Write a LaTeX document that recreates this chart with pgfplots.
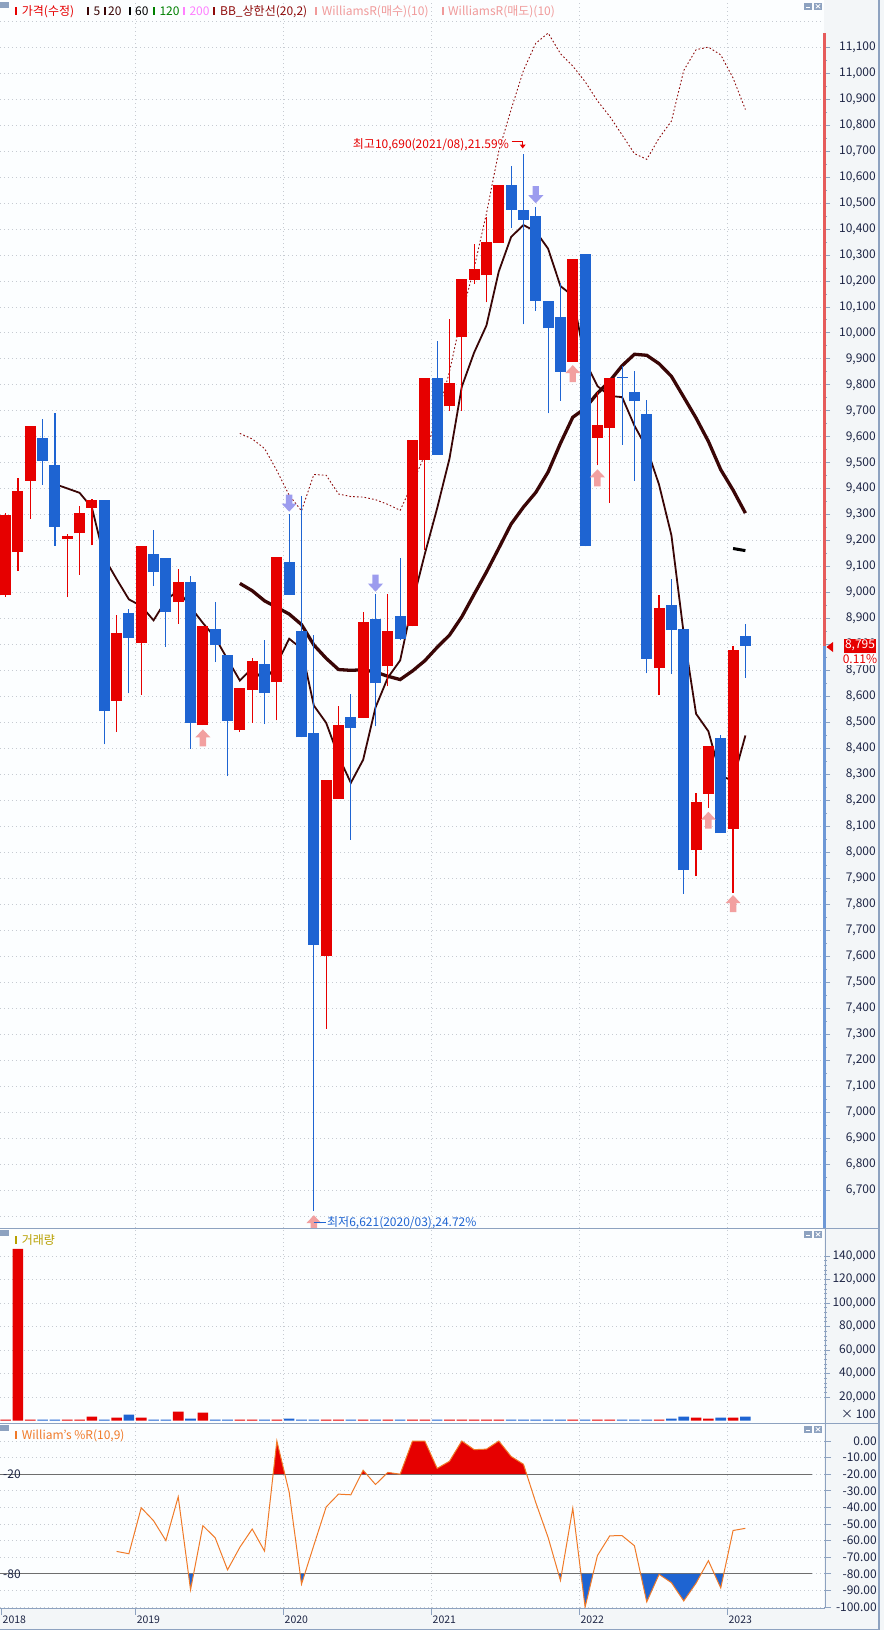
\documentclass[border=0pt]{standalone}
\usepackage{fontspec}
\setmainfont{Noto Sans CJK KR}
\usepackage{pgfplots}
\usepackage{pgfplotstable}
\pgfplotsset{compat=1.18}

\definecolor{upred}{HTML}{E60000}
\definecolor{dnblue}{HTML}{1E64D2}
\definecolor{maline}{HTML}{3A0606}
\definecolor{bbred}{HTML}{8E0A0A}
\definecolor{frame}{HTML}{8DA2C0}
\definecolor{strip}{HTML}{F3F6F8}
\definecolor{plotbg}{HTML}{FCFEFF}
\definecolor{gridc}{HTML}{C6CBD2}
\definecolor{lbl}{HTML}{1E2646}
\definecolor{wrline}{HTML}{F07A28}
\definecolor{buyar}{HTML}{F2A0A0}
\definecolor{sellar}{HTML}{9C9CEE}
\definecolor{wrtext}{HTML}{F09A9A}
\definecolor{volt}{HTML}{B8A000}
\definecolor{ma120}{HTML}{008000}
\definecolor{ma200}{HTML}{FF80FF}
\definecolor{stripred}{HTML}{E65C5C}
\definecolor{stripblue}{HTML}{6E98D6}
\definecolor{refline}{HTML}{6E6E6E}

\newcommand{\tf}{\fontsize{12}{14}\selectfont}

% arrows for the Williams %R buy / sell signals (tip at the data point)
\pgfdeclareplotmark{buyarrow}{%
  \pgfpathmoveto{\pgfqpoint{0pt}{0pt}}%
  \pgfpathlineto{\pgfqpoint{7.5pt}{-8pt}}%
  \pgfpathlineto{\pgfqpoint{3.2pt}{-8pt}}%
  \pgfpathlineto{\pgfqpoint{3.2pt}{-17pt}}%
  \pgfpathlineto{\pgfqpoint{-3.2pt}{-17pt}}%
  \pgfpathlineto{\pgfqpoint{-3.2pt}{-8pt}}%
  \pgfpathlineto{\pgfqpoint{-7.5pt}{-8pt}}%
  \pgfpathclose\pgfusepathqfill}
\pgfdeclareplotmark{sellarrow}{%
  \pgfpathmoveto{\pgfqpoint{0pt}{0pt}}%
  \pgfpathlineto{\pgfqpoint{7.5pt}{8pt}}%
  \pgfpathlineto{\pgfqpoint{3.2pt}{8pt}}%
  \pgfpathlineto{\pgfqpoint{3.2pt}{17pt}}%
  \pgfpathlineto{\pgfqpoint{-3.2pt}{17pt}}%
  \pgfpathlineto{\pgfqpoint{-3.2pt}{8pt}}%
  \pgfpathlineto{\pgfqpoint{-7.5pt}{8pt}}%
  \pgfpathclose\pgfusepathqfill}

% monthly candles, x = months since Jan 2018
\pgfplotstableread{
x o h l c
1 8990 9305 8985 9300
2 9156 9443 9083 9390
3 9430 9640 9285 9640
6 9207 9225 8983 9217
7 9228 9332 9070 9305
8 9326 9360 9182 9355
10 8585 8913 8463 8843
12 8805 9178 8608 9178
15 8964 9090 8880 9043
17 8490 8870 8490 8870
20 8471 8635 8463 8635
21 8625 8748 8500 8739
23 8656 9136 8509 9136
27 7601 8280 7322 8280
28 8207 8562 8207 8491
30 8517 8925 8517 8888
32 8716 8996 8639 8854
34 8870 9589 8870 9589
35 9512 9828 9165 9828
37 9717 10054 9700 9809
38 9986 10208 9700 10208
39 10205 10342 10188 10246
40 10221 10447 10117 10350
41 10347 10569 10347 10569
47 9888 10285 9888 10285
49 9596 9771 9490 9646
50 9634 9827 9346 9827
54 8710 8990 8606 8940
57 8009 8230 7909 8196
58 8225 8408 8172 8408
60 8090 8795 7845 8778
}\upcandles

\pgfplotstableread{
x o h l c
4 9594 9667 9415 9507
5 9490 9690 9180 9253
9 9355 9355 8416 8543
11 8920 8936 8612 8825
13 9147 9240 9025 9079
14 9132 9132 8791 8925
16 9043 9065 8400 8500
18 8862 8963 8733 8798
19 8762 8762 8294 8506
22 8724 8816 8494 8613
24 9117 9302 8991 8991
25 8854 9373 8443 8443
26 8461 8838 6621 7645
29 8520 8611 8049 8481
31 8900 8995 8485 8651
33 8911 9135 8816 8823
36 9828 9967 9531 9531
42 10569 10644 10405 10474
43 10474 10690 10033 10436
44 10450 10483 10086 10124
45 10123 10123 9690 10017
46 10062 10191 9738 9850
48 10304 10304 9178 9178
51 9832 9874 9569 9828
52 9773 9854 9431 9736
53 9689 9742 8689 8745
55 8951 9051 8687 8856
56 8859 8859 7841 7932
59 8442 8453 8075 8075
61 8832 8878 8673 8795
}\dncandles

\pgfplotsset{
  panel/.style={scale only axis, width=824pt, xmin=0.5458, xmax=67.375,
    anchor=north west, axis line style={draw=none},
    axis background/.style={fill=plotbg},
    grid style={draw=gridc, dash pattern=on 1pt off 3pt, line width=0.8pt},
    tick align=outside, tick style={draw=frame, line width=0.8pt},
    major tick length=6pt, minor tick length=3pt,
    ytick pos=right, yticklabel pos=right,
    scaled y ticks=false,
    ticklabel style={font=\tf, text=lbl},
    yticklabel style={anchor=east, inner sep=0pt, xshift=46pt},
    /pgf/number format/assume math mode=true,
    /pgf/number format/1000 sep={,},
    xtick={11.5,23.5,35.5,47.5,59.5}, xmajorgrids, ymajorgrids},
  wick/.style={draw=none, mark=none, error bars/.cd, y dir=plus, y explicit,
    error mark=none, error bar style={draw=#1, line width=1.2pt}},
  body/.style={draw=none, mark=none, error bars/.cd, y dir=plus, y explicit,
    error mark=none, error bar style={draw=#1, line width=11pt}},
}

\begin{document}
\begin{tikzpicture}
\useasboundingbox (0pt,0pt) rectangle (884pt,-1630pt);
\fill[strip] (0pt,0pt) rectangle (884pt,-1630pt);

% ---------------- price panel ----------------
\begin{axis}[panel, at={(0pt,0pt)}, height=1228pt,
  ymin=6554.6, ymax=11281.3,
  ytick={6700,6800,...,11100}, minor y tick num=1,
  extra y ticks={6600,11200}, extra y tick labels={},
  extra y tick style={grid=major, major tick length=0pt},
  /pgf/number format/fixed, /pgf/number format/precision=0,
  xticklabels={}, xtick style={draw=none}]

  % BB upper band (20,2)
  \addplot[bbred, line width=0.9pt, dash pattern=on 1.6pt off 2.2pt] coordinates {
    (20,9613) (21,9592) (22,9555) (23,9470) (24,9375) (25,9315) (26,9455)
    (27,9452) (28,9380) (29,9370) (30,9368) (31,9358) (32,9340) (33,9317)
    (34,9420) (35,9530) (36,9680) (37,9850) (38,10070) (39,10250) (40,10460)
    (41,10700) (42,10860) (43,11010) (44,11115) (45,11154) (46,11075)
    (47,11027) (48,10967) (49,10893) (50,10833) (51,10762) (52,10690)
    (53,10668) (54,10750) (55,10815) (56,11010) (57,11090) (58,11100)
    (59,11070) (60,10981) (61,10860)};

  % 60 MA
  \addplot[black, line width=3pt] coordinates {(60,9170) (61,9162)};

  % 20 MA
  \addplot[maline, line width=3.3pt] coordinates {
    (20,9035.6) (21,9007.6) (22,8968.7) (23,8943.5) (24,8917.7) (25,8877.2)
    (26,8798.6) (27,8747.4) (28,8704.2) (29,8701.1) (30,8703.3) (31,8694.6)
    (32,8678.4) (33,8665.6) (34,8698.8) (35,8738.1) (36,8789.6) (37,8836.6)
    (38,8907.1) (39,8994.1) (40,9079.8) (41,9171.3) (42,9264.4) (43,9329.4)
    (44,9386) (45,9464.7) (46,9575) (47,9675.2) (48,9709.6) (49,9767.8)
    (50,9814.8) (51,9873.6) (52,9917.7) (53,9913.8) (54,9881.4) (55,9832.8)
    (56,9752.8) (57,9672.2) (58,9582.2) (59,9473.6) (60,9395) (61,9306.3)};

  % 5 MA
  \addplot[maline, line width=1.8pt] coordinates {
    (5,9418) (6,9401.4) (7,9384.4) (8,9327.4) (9,9134.6) (10,9052.6)
    (11,8974.2) (12,8948.8) (13,8893.6) (14,8970) (15,9010) (16,8945)
    (17,8883.4) (18,8827.2) (19,8743.4) (20,8661.8) (21,8709.6) (22,8658.2)
    (23,8725.8) (24,8822.8) (25,8784.4) (26,8565.6) (27,8499) (28,8370)
    (29,8268) (30,8357) (31,8558.2) (32,8673) (33,8739.4) (34,8961)
    (35,9149) (36,9325) (37,9516) (38,9793) (39,9924.4) (40,10028.8)
    (41,10236.4) (42,10369.4) (43,10415) (44,10390.6) (45,10324) (46,10180.2)
    (47,10142.4) (48,9890.8) (49,9795.2) (50,9757.2) (51,9752.8) (52,9643)
    (53,9556.4) (54,9415.2) (55,9221) (56,8841.8) (57,8533.8) (58,8466.4)
    (59,8293.4) (60,8277.8) (61,8450.4)};

  % candles: wicks then bodies
  \addplot[wick=upred] table[x=x, y=l, y error expr=\thisrow{h}-\thisrow{l}] {\upcandles};
  \addplot[wick=dnblue] table[x=x, y=l, y error expr=\thisrow{h}-\thisrow{l}] {\dncandles};
  \addplot[body=upred] table[x=x, y=o, y error expr=\thisrow{c}-\thisrow{o}] {\upcandles};
  \addplot[body=dnblue] table[x=x, y=c, y error expr=\thisrow{o}-\thisrow{c}] {\dncandles};

  % Williams %R signals
  \addplot[only marks, mark=buyarrow, buyar] coordinates {
    (17,8474) (26,6604) (47,9876) (49,9475) (58,8157) (60,7836)};
  \addplot[only marks, mark=sellarrow, sellar] coordinates {
    (24,9312) (31,9004) (44,10499)};
\end{axis}

% ---------------- volume panel ----------------
\begin{axis}[panel, at={(0pt,-1228pt)}, height=195pt,
  ymin=-2128, ymax=163818,
  ytick={20000,40000,...,140000}, minor y tick num=4,
  /pgf/number format/fixed, /pgf/number format/precision=0,
  xticklabels={}, xtick style={draw=none}]
  \addplot[ybar, bar width=10.6pt, bar shift=0pt, fill=upred, draw=none] coordinates {
    (1,850) (2,146000) (3,850) (6,850) (7,850) (8,3400) (10,2550) (12,2550)
    (15,7650) (17,6800) (20,850) (21,850) (23,850) (27,850) (28,850) (30,850)
    (32,850) (34,850) (35,850) (37,850) (38,850) (39,850) (40,850) (41,850)
    (47,850) (49,850) (50,850) (54,850) (57,2550) (58,1700) (60,2550)};
  \addplot[ybar, bar width=10.6pt, bar shift=0pt, fill=dnblue, draw=none] coordinates {
    (4,850) (5,850) (9,850) (11,5100) (13,850) (14,850) (16,1700) (18,850)
    (19,850) (22,850) (24,1700) (25,850) (26,850) (29,850) (31,850) (33,850)
    (36,850) (42,850) (43,850) (44,850) (45,850) (46,850) (48,850) (51,850)
    (52,850) (53,850) (55,1700) (56,3400) (59,2550) (61,3400)};
\end{axis}

% ---------------- Williams %R panel ----------------
\begin{axis}[panel, at={(0pt,-1423pt)}, height=185pt,
  ymin=-100.6, ymax=10.84,
  ytick={0,-10,...,-100},
  /pgf/number format/fixed, /pgf/number format/fixed zerofill,
  /pgf/number format/precision=2,
  xtick pos=left, xticklabel pos=left, major tick length=7pt,
  xticklabels={2019,2020,2021,2022,2023},
  extra x ticks={0.627}, extra x tick labels={2018}, extra x tick style={grid=none},
  xticklabel style={font=\fontsize{10.5}{12}\selectfont, anchor=north west,
    inner sep=0pt, xshift=1.5pt, yshift=-1pt}]
  \draw[refline, line width=1pt] (axis cs:0.5458,-20) -- (axis cs:66.4,-20);
  \draw[refline, line width=1pt] (axis cs:0.5458,-80) -- (axis cs:66.4,-80);
  \node[anchor=west, inner sep=0pt, xshift=3pt, font=\tf, text=lbl] at (axis cs:0.5458,-20) {-20};
  \node[anchor=west, inner sep=0pt, xshift=3pt, font=\tf, text=lbl] at (axis cs:0.5458,-80) {-80};

  % overbought (above -20)
  \addplot[fill=upred, draw=none] coordinates {(22.698,-20) (23,0) (23.647,-20)};
  \addplot[fill=upred, draw=none] coordinates {(29.838,-20) (30,-17.6) (30.279,-20)};
  \addplot[fill=upred, draw=none] coordinates {(31.849,-20) (32,-18.9) (33,-20)};
  \addplot[fill=upred, draw=none] coordinates {(33,-20) (34,0) (35,0) (36,-16.5)
    (37,-12.2) (38,0) (39,-5.2) (40,-4.9) (41,0) (42,-9.3) (43,-14) (43.26,-20)};
  % oversold (below -80)
  \addplot[fill=dnblue, draw=none] coordinates {(15.829,-80) (16,-89.6) (16.249,-80)};
  \addplot[fill=dnblue, draw=none] coordinates {(24.888,-80) (25,-86.2) (25.265,-80)};
  \addplot[fill=dnblue, draw=none] coordinates {(45.846,-80) (46,-84) (46.092,-80)};
  \addplot[fill=dnblue, draw=none] coordinates {(47.664,-80) (48,-100) (48.645,-80)};
  \addplot[fill=dnblue, draw=none] coordinates {(52.5,-80) (53,-96.9) (54,-80.3)
    (55,-85.3) (56,-96.3) (57,-85.6) (57.415,-80)};
  \addplot[fill=dnblue, draw=none] coordinates {(58.482,-80) (59,-88.5) (59.246,-80)};

  \addplot[wrline, line width=1pt] coordinates {
    (10,-66.5) (11,-67.9) (12,-40.2) (13,-48.0) (14,-60.0) (15,-33.6) (16,-89.6)
    (17,-51.0) (18,-58.3) (19,-77.6) (20,-64.0) (21,-53.0) (22,-66.3) (23,0)
    (24,-30.9) (25,-86.2) (26,-62.8) (27,-39.7) (28,-32.0) (29,-32.4) (30,-17.6)
    (31,-26.2) (32,-18.9) (33,-20.0) (34,0) (35,0) (36,-16.5) (37,-12.2) (38,0)
    (39,-5.2) (40,-4.9) (41,0) (42,-9.3) (43,-14.0) (44,-37.1) (45,-58.1)
    (46,-84.0) (47,-40.5) (48,-100) (49,-69.0) (50,-57.1) (51,-57.0) (52,-63.1)
    (53,-96.9) (54,-80.3) (55,-85.3) (56,-96.3) (57,-85.6) (58,-72.1) (59,-88.5)
    (60,-53.9) (61,-52.6)};
\end{axis}

% ---------------- frames ----------------
\draw[frame, line width=1pt] (0pt,-1228pt) -- (879pt,-1228pt);
\draw[frame, line width=1pt] (0pt,-1423pt) -- (879pt,-1423pt);
\draw[frame, line width=1pt] (0pt,-1608pt) -- (825pt,-1608pt);
\draw[frame, line width=1pt] (825pt,-1228pt) -- (825pt,-1608pt);
\draw[frame, line width=1.2pt] (879pt,0pt) -- (879pt,-1630pt);
\draw[frame, line width=1pt] (0pt,-1629pt) -- (879pt,-1629pt);
\fill[stripred] (823pt,-33pt) rectangle (826pt,-646pt);
\fill[stripblue] (823pt,-646pt) rectangle (826pt,-1228pt);

% panel handles and buttons
\foreach \yy in {0,1228,1423} {
  \fill[frame] (0pt,-\yy pt-2pt) rectangle (9pt,-\yy pt-7.5pt);
  \fill[frame] (804pt,-\yy pt-2.5pt) rectangle (812pt,-\yy pt-10pt);
  \fill[white] (805.6pt,-\yy pt-6.5pt) rectangle (810.4pt,-\yy pt-8.3pt);
  \fill[frame] (814pt,-\yy pt-2.5pt) rectangle (822pt,-\yy pt-10pt);
  \draw[white, line width=0.8pt] (815.8pt,-\yy pt-4.3pt) -- (820.2pt,-\yy pt-8.3pt)
    (815.8pt,-\yy pt-8.3pt) -- (820.2pt,-\yy pt-4.3pt);
}

% legend row of the price panel
\begin{scope}[every node/.style={anchor=base west, inner sep=0pt, font=\tf}]
  \fill[upred] (15pt,-6.7pt) rectangle (17.3pt,-14.7pt);
  \node[text=upred] at (21.7pt,-15pt) {가격(수정)};
  \fill[maline] (87.3pt,-6.7pt) rectangle (89.3pt,-14.7pt);
  \node[text=maline] at (93.3pt,-15pt) {5};
  \fill[maline] (104.3pt,-6.7pt) rectangle (106.3pt,-14.7pt);
  \node[text=maline] at (108pt,-15pt) {20};
  \fill[black] (129.3pt,-6.7pt) rectangle (131.3pt,-14.7pt);
  \node[text=black] at (135pt,-15pt) {60};
  \fill[ma120] (153.3pt,-6.7pt) rectangle (155.3pt,-14.7pt);
  \node[text=ma120] at (159.3pt,-15pt) {120};
  \fill[ma200] (182.7pt,-6.7pt) rectangle (184.7pt,-14.7pt);
  \node[text=ma200] at (189.3pt,-15pt) {200};
  \fill[bbred] (213.3pt,-6.7pt) rectangle (215.3pt,-14.7pt);
  \node[text=bbred] at (220pt,-15pt) {BB\_상한선(20,2)};
  \fill[wrtext] (315pt,-6.7pt) rectangle (317pt,-14.7pt);
  \node[text=wrtext] at (321.7pt,-15pt) {WilliamsR(매수)(10)};
  \fill[wrtext] (441.7pt,-6.7pt) rectangle (443.7pt,-14.7pt);
  \node[text=wrtext] at (448pt,-15pt) {WilliamsR(매도)(10)};

  \fill[volt] (15pt,-1235.7pt) rectangle (17.3pt,-1243.7pt);
  \node[text=volt] at (21.7pt,-1244pt) {거래량};
  \fill[wrline] (15pt,-1430.7pt) rectangle (17.3pt,-1438.7pt);
  \node[text=wrline] at (21.7pt,-1439pt) {William's \%R(10,9)};

  % high / low annotations
  \node[text=upred, anchor=base east] at (509pt,-148pt) {최고10,690(2021/08),21.59\%};
  \node[text=dnblue] at (327pt,-1226pt) {최저6,621(2020/03),24.72\%};
\end{scope}
\draw[upred, line width=1pt] (511.5pt,-141.7pt) -- (522.7pt,-141.7pt) -- (522.7pt,-145pt);
\fill[upred] (519.7pt,-144.5pt) -- (525.7pt,-144.5pt) -- (522.7pt,-148.5pt) -- cycle;
\draw[dnblue, line width=1pt] (313.5pt,-1222.5pt) -- (325.5pt,-1222.5pt);

% current price marker
\fill[upred] (826.5pt,-647pt) -- (833pt,-642pt) -- (833pt,-652pt) -- cycle;
\fill[upred] (844pt,-638.5pt) rectangle (876pt,-652.5pt);
\node[text=white, font=\tf, inner sep=0pt] at (860pt,-645.5pt) {8,795};
\fill[white] (844pt,-653.5pt) rectangle (876pt,-665pt);
\node[text=upred, font=\tf, inner sep=0pt] at (860pt,-659.3pt) {0.11\%};

% volume unit
\node[anchor=east, inner sep=0pt, font=\tf, text=lbl] at (876pt,-1414pt) {× 100};
\end{tikzpicture}
\end{document}
